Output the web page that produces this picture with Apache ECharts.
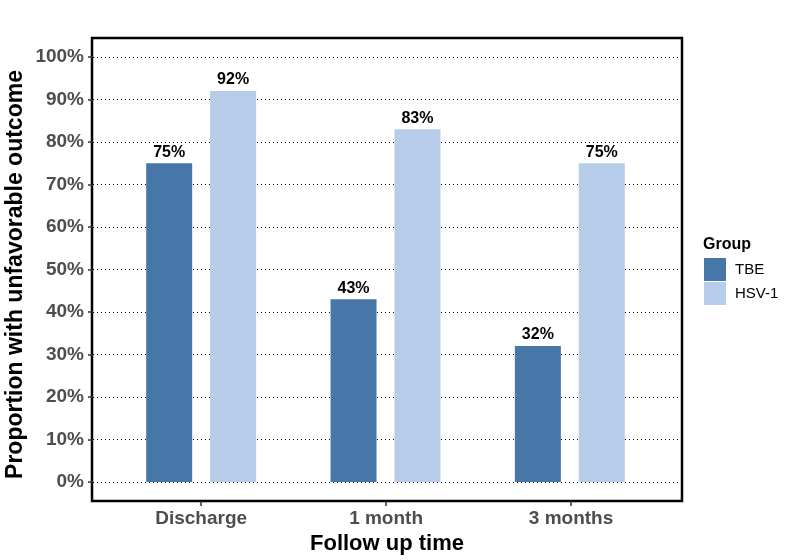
<!DOCTYPE html>
<html>
<head>
<meta charset="utf-8">
<script src="https://cdn.jsdelivr.net/npm/echarts@6/dist/echarts.min.js"></script>
<style>
  html, body { margin: 0; padding: 0; background: #fff; }
  #main { width: 799px; height: 560px; }
</style>
</head>
<body>
<div id="main"></div>
<script>
var categories = ['Discharge', '1 month', '3 months'];
var catPos = [1, 2, 3];
var tbe = [75, 43, 32];
var hsv = [92, 83, 75];

var myChart = echarts.init(document.getElementById('main'));

var labelStyle = {
    show: true,
    position: 'top',
    distance: 3,
    formatter: '{c}%',
    color: '#000',
    fontWeight: 'bold',
    fontSize: 16,
    fontFamily: 'Liberation Sans'
};

var option = {
    animation: false,
    backgroundColor: '#fff',
    textStyle: { fontFamily: 'Liberation Sans' },
    grid: [
        // bars (category bands)
        { left: 109, right: 137, top: 57, bottom: 78, outerBoundsMode: 'none' },
        // full panel with border, x ticks and labels
        { left: 92, right: 117, top: 38, bottom: 59, outerBoundsMode: 'none', show: true, borderColor: '#000', borderWidth: 2.5, backgroundColor: 'transparent' },
        // y scale, grid lines
        { left: 93, right: 117, top: 57, bottom: 78, outerBoundsMode: 'none' }
    ],
    xAxis: [
        { type: 'category', gridIndex: 0, data: categories, show: false },
        {
            type: 'value',
            gridIndex: 1,
            min: 0.41,
            max: 3.6,
            name: 'Follow up time',
            nameLocation: 'middle',
            nameGap: 26,
            nameTextStyle: { color: '#000', fontWeight: 'bold', fontSize: 22 },
            axisLine: { show: false },
            axisTick: { show: true, customValues: catPos, length: 5, lineStyle: { color: '#333', width: 1.5 } },
            axisLabel: {
                customValues: catPos,
                margin: 8,
                color: '#4d4d4d',
                fontWeight: 'bold',
                fontSize: 19,
                formatter: function (v) { return categories[Math.round(v) - 1]; }
            },
            splitLine: { show: false }
        },
        { type: 'value', gridIndex: 2, min: 0, max: 1, show: false }
    ],
    yAxis: [
        { type: 'value', gridIndex: 0, min: 0, max: 100, show: false },
        { type: 'value', gridIndex: 1, min: 0, max: 1, show: false },
        {
            type: 'value',
            gridIndex: 2,
            min: 0,
            max: 100,
            interval: 10,
            name: 'Proportion with unfavorable outcome',
            nameLocation: 'middle',
            nameGap: 66,
            nameMoveOverlap: false,
            nameTextStyle: { color: '#000', fontWeight: 'bold', fontSize: 23, padding: [0, 10, 0, 0] },
            axisLine: { show: false },
            axisTick: { show: true, length: 5, lineStyle: { color: '#333', width: 1.5 } },
            axisLabel: {
                margin: 9,
                color: '#4d4d4d',
                fontWeight: 'bold',
                fontSize: 19,
                formatter: '{value}%'
            },
            splitLine: { show: true, lineStyle: { color: '#000', type: [1, 3], width: 1 } }
        }
    ],
    legend: {
        orient: 'vertical',
        left: 699,
        top: 253,
        itemWidth: 22,
        itemHeight: 23,
        itemGap: 1,
        icon: 'rect',
        textStyle: { color: '#000', fontSize: 15, padding: [0, 0, 0, 4] },
        data: ['TBE', 'HSV-1']
    },
    graphic: [
        {
            type: 'text',
            left: 703,
            top: 237,
            style: { text: 'Group', fill: '#000', font: 'bold 16px "Liberation Sans"' }
        }
    ],
    series: [
        {
            name: 'TBE',
            type: 'bar',
            xAxisIndex: 0,
            yAxisIndex: 0,
            barWidth: 46,
            barGap: '39%',
            itemStyle: { color: '#4677a8' },
            label: labelStyle,
            data: tbe
        },
        {
            name: 'HSV-1',
            type: 'bar',
            xAxisIndex: 0,
            yAxisIndex: 0,
            barWidth: 46,
            barGap: '39%',
            itemStyle: { color: '#b7cce8' },
            label: labelStyle,
            data: hsv
        }
    ]
};

myChart.setOption(option);
window.addEventListener('resize', function () {
    myChart.resize();
});
</script>
</body>
</html>
